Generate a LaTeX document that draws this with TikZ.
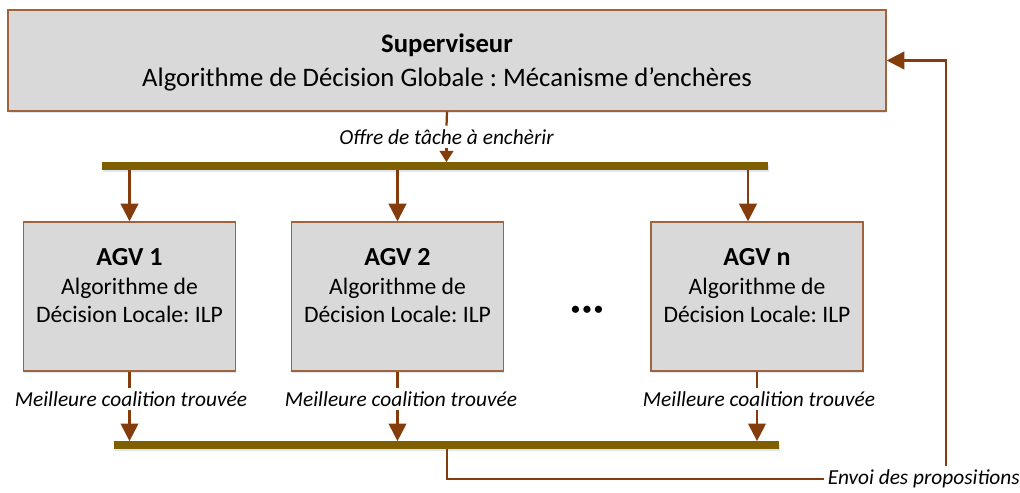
\documentclass[tikz,border=0pt]{standalone}
\usepackage{fontspec}
\setmainfont{Carlito}
\frenchspacing
\usetikzlibrary{arrows.meta, positioning, calc, shadows}
\definecolor{arrbrown}{HTML}{843C0C}
\definecolor{boxbrown}{HTML}{A0643C}
\definecolor{busgold}{HTML}{7F6000}
\definecolor{boxgray}{HTML}{D9D9D9}
\definecolor{shadowblue}{HTML}{9DB6D6}

\begin{document}
\begin{tikzpicture}[
  >={Triangle[length=4.4mm, width=4.4mm]},
  softshadow/.style={
    drop shadow={shadow xshift=0.6pt, shadow yshift=-1.6pt,
      fill=shadowblue, opacity=0.35}
  },
  supbox/.style={
    draw=boxbrown, line width=1pt, fill=boxgray, softshadow,
    minimum width=21.95cm, minimum height=2.525cm,
    font=\fontsize{19}{24}\selectfont, align=center, inner sep=4pt,
    text depth=0pt
  },
  agvbox/.style={
    draw=boxbrown, line width=1pt, fill=boxgray, softshadow,
    minimum width=5.3cm, minimum height=3.725cm,
    font=\fontsize{16.8}{20.5}\selectfont, align=center,
    text depth=0.55cm, inner sep=4pt
  },
  bus/.style={
    fill=busgold, softshadow, minimum height=0.18cm, inner sep=0pt
  },
  msglabel/.style={font=\fontsize{15.2}{18}\selectfont\itshape, inner sep=2.5pt},
  arr/.style={->, line width=1.6pt, arrbrown},
  link/.style={line width=1.6pt, arrbrown},
]

\useasboundingbox (0,0) rectangle (25.5,12.3);

% Supervisor
\node[supbox] (sup) at (11.175,10.7875)
  {\textbf{Superviseur}\\Algorithme de Décision Globale : Mécanisme d’enchères};

% =============================================
% Top bus (task offer)
% =============================================
\node[msglabel] (offre) at (11.1625,8.875) {Offre de tâche à enchèrir};
\node[bus, minimum width=16.65cm] (bustop) at (10.875,8.15) {};

\draw[link] (sup.south) -- (offre.north);
\draw[link, -{Triangle[length=2.8mm, width=3.4mm]}]
  (offre.south) -- (offre.south |- bustop.north);

% =============================================
% AGVs
% =============================================
\node[agvbox] (agv1) at (3.2375,4.8875)
  {\fontsize{18.5}{23}\selectfont\textbf{AGV 1}\\Algorithme de\\Décision Locale: ILP};
\node[agvbox] (agv2) at (9.9375,4.8875)
  {\fontsize{18.5}{23}\selectfont\textbf{AGV 2}\\Algorithme de\\Décision Locale: ILP};
\node[agvbox] (agvn) at (18.925,4.8875)
  {\fontsize{18.5}{23}\selectfont\textbf{AGV n}\\Algorithme de\\Décision Locale: ILP};

\node[font=\fontsize{12}{12}\selectfont\bfseries] (dots) at (14.675,4.55)
  {•\hspace{2.2pt}•\hspace{2.2pt}•};

% Arrows from top bus to AGVs
\draw[arr] (bustop.south -| agv1.north) -- (agv1.north);
\draw[arr] (bustop.south -| agv2.north) -- (agv2.north);
\coordinate (inn) at ($(agvn.north)+(-0.225,0)$);
\draw[arr] (bustop.south -| inn) -- (inn);

% =============================================
% Bottom bus (best coalitions)
% =============================================
\node[bus, minimum width=16.625cm] (busbot) at (11.1625,1.175) {};

\node[msglabel] (lab1) at (3.275,2.325) {Meilleure coalition trouvée};
\node[msglabel] (lab2) at (10.025,2.325) {Meilleure coalition trouvée};
\node[msglabel] (labn) at (18.975,2.325) {Meilleure coalition trouvée};

\draw[link] (agv1.south) -- (agv1.south |- lab1.north);
\draw[arr] (agv1.south |- lab1.south) -- (agv1.south |- busbot.north);
\draw[link] (agv2.south) -- (agv2.south |- lab2.north);
\draw[arr] (agv2.south |- lab2.south) -- (agv2.south |- busbot.north);
\draw[link] (agvn.south) -- (agvn.south |- labn.north);
\draw[arr] (agvn.south |- labn.south) -- (agvn.south |- busbot.north);

% =============================================
% Feedback to supervisor
% =============================================
\node[msglabel, anchor=west] (envoi) at (20.6,0.325) {Envoi des propositions};
\coordinate (ret) at ($(envoi.north west)+(3.05,0)$);

\draw[link] (busbot.south -| sup.south) |- (envoi.west);
\draw[arr] (ret) |- (sup.east);

\end{tikzpicture}
\end{document}
